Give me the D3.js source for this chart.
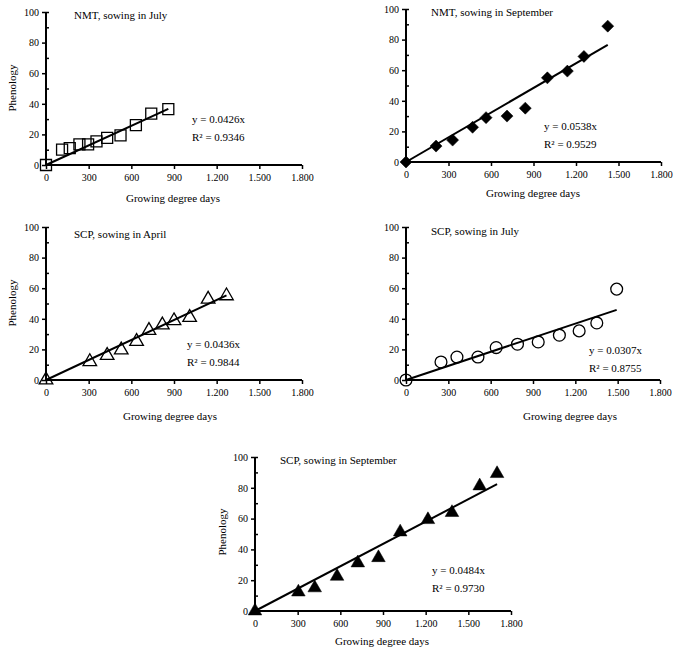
<!DOCTYPE html>
<html>
<head>
  <title>Phenology vs growing degree days</title>
  <script src="https://d3js.org/d3.v7.min.js"></script>
  <style>
    body { margin: 0; background: #fff; }
    svg text { font-family: 'Liberation Serif', 'Times New Roman', serif; fill: #000; }
  </style>
</head>
<body>
  <div id="chart"></div>

  <script>
    // Data (growing degree days, phenology)
    const nmtJulyGdd = [0, 113, 167, 235, 296, 355, 430, 524, 632, 740, 860];
    const nmtJulyPhen = [0, 10, 11, 13.5, 13.5, 15.5, 17.7, 19.4, 26, 33.6, 36.5];

    const nmtSepGdd = [0, 212, 329, 470, 565, 713, 842, 998, 1139, 1256, 1424];
    const nmtSepPhen = [0, 10.4, 14.3, 22.7, 29, 30, 35.2, 55, 59.4, 69, 88.8];

    const scpAprGdd = [0, 308, 430, 529, 637, 724, 818, 900, 1010, 1140, 1269];
    const scpAprPhen = [0, 12, 16, 19.6, 25.2, 32.4, 36, 38.7, 40.9, 52.8, 55];

    const scpJulGdd = [0, 248, 361, 510, 639, 790, 937, 1087, 1227, 1352, 1493];
    const scpJulPhen = [0, 11.8, 15, 15, 21.2, 23.4, 24.9, 29.3, 32.1, 37.3, 59.4];

    const scpSepGdd = [0, 305, 420, 577, 723, 868, 1021, 1216, 1385, 1580, 1702];
    const scpSepPhen = [0, 12.3, 15, 22.5, 31.2, 34.6, 51.3, 59.3, 63.9, 81.2, 89.2];

    const titles = ["NMT, sowing in July", "NMT, sowing in September", "SCP, sowing in April",
                    "SCP, sowing in July", "SCP, sowing in September"];
    const slopes = [0.0426, 0.0538, 0.0436, 0.0307, 0.0484];
    const rSquared = ["0.9346", "0.9529", "0.9844", "0.8755", "0.9730"];
    const markers = ["square", "diamond", "triangleOpen", "circle", "triangleFilled"];

    const xTicks = [0, 300, 600, 900, 1200, 1500, 1800];
    const xTickLabels = ["0", "300", "600", "900", "1.200", "1.500", "1.800"];
    const yTicks = [0, 20, 40, 60, 80, 100];

    const gddSeries = [nmtJulyGdd, nmtSepGdd, scpAprGdd, scpJulGdd, scpSepGdd];
    const phenSeries = [nmtJulyPhen, nmtSepPhen, scpAprPhen, scpJulPhen, scpSepPhen];

    // Panel placement on the page (plot area edges and label spots)
    const layout = [
      { x0: 46, x1: 302, yTop: 12, yBot: 165, title: [74, 15], eq: [192, 119], xl: [173, 198], yl: [12, 88] },
      { x0: 406, x1: 661, yTop: 9, yBot: 162, title: [431, 12], eq: [544, 126], xl: [533, 193], yl: null },
      { x0: 46, x1: 302, yTop: 227, yBot: 380, title: [74, 234], eq: [187, 344], xl: [170, 416], yl: [12, 303] },
      { x0: 406, x1: 660, yTop: 227, yBot: 380, title: [431, 231], eq: [589, 350], xl: [570, 416], yl: null },
      { x0: 255, x1: 511, yTop: 457, yBot: 611, title: [280, 460], eq: [432, 570], xl: [382, 641], yl: [222, 532] }
    ];

    const svg = d3.select("#chart").append("svg")
      .attr("width", 679)
      .attr("height", 650);

    function markerPath(kind) {
      if (kind === "square") return d3.symbol(d3.symbolSquare, 121)();
      if (kind === "diamond") return d3.symbol(d3.symbolSquare, 72)();
      if (kind === "circle") return d3.symbol(d3.symbolCircle, 110)();
      return d3.symbol(d3.symbolTriangle, 80)();
    }

    layout.forEach(function(L, i) {
      const x = d3.scaleLinear().domain([0, 1800]).range([L.x0, L.x1]);
      const y = d3.scaleLinear().domain([0, 100]).range([L.yBot, L.yTop]);
      const g = svg.append("g");

      // x axis
      const xAxis = g.append("g")
        .attr("transform", "translate(0," + L.yBot + ")")
        .call(d3.axisBottom(x).tickValues(xTicks).tickSize(4).tickPadding(5)
          .tickFormat(function(d, j) { return xTickLabels[j]; }));
      xAxis.select(".domain").attr("stroke-width", 2).attr("d", "M" + L.x0 + ",0H" + L.x1);
      xAxis.selectAll(".tick line").attr("stroke-width", 1.5);
      xAxis.selectAll("text").attr("font-size", 10).attr("font-family", "'Liberation Serif', serif");

      // y axis, major ticks outside
      const yAxis = g.append("g")
        .attr("transform", "translate(" + L.x0 + ",0)")
        .call(d3.axisLeft(y).tickValues(yTicks).tickSize(4).tickPadding(3));
      yAxis.select(".domain").attr("stroke-width", 2).attr("d", "M0," + L.yBot + "V" + L.yTop);
      yAxis.selectAll(".tick line").attr("stroke-width", 1.5);
      yAxis.selectAll("text").attr("font-size", 10).attr("font-family", "'Liberation Serif', serif");

      // minor ticks inside
      g.append("g")
        .attr("transform", "translate(" + L.x0 + ",0)")
        .call(d3.axisRight(y).tickValues([10, 30, 50, 70, 90, 100]).tickSize(3).tickFormat(""))
        .call(function(a) {
          a.select(".domain").remove();
          a.selectAll(".tick line").attr("stroke-width", 1.5);
        });

      // trend line through origin
      const gdd = gddSeries[i];
      const xmax = d3.max(gdd);
      g.append("line")
        .attr("x1", x(0)).attr("y1", y(0))
        .attr("x2", x(xmax)).attr("y2", y(slopes[i] * xmax))
        .attr("stroke", "#000")
        .attr("stroke-width", 2);

      // markers
      const pts = gdd.map(function(v, j) { return [v, phenSeries[i][j]]; });
      const kind = markers[i];
      const filled = kind === "diamond" || kind === "triangleFilled";
      g.selectAll("path.pt")
        .data(pts)
        .join("path")
        .attr("class", "pt")
        .attr("d", markerPath(kind))
        .attr("transform", function(d) {
          return "translate(" + x(d[0]) + "," + y(d[1]) + ")" + (kind === "diamond" ? " rotate(45)" : "");
        })
        .attr("fill", filled ? "#000" : "#fff")
        .attr("fill-opacity", filled ? 1 : 0)
        .attr("stroke", "#000")
        .attr("stroke-width", filled ? 0.5 : 1.3);

      // texts
      g.append("text")
        .attr("x", L.title[0]).attr("y", L.title[1])
        .attr("dy", "0.35em")
        .attr("font-size", 11)
        .text(titles[i]);

      g.append("text")
        .attr("x", L.eq[0]).attr("y", L.eq[1])
        .attr("dy", "0.35em")
        .attr("font-size", 11)
        .text("y = " + slopes[i].toFixed(4) + "x");

      g.append("text")
        .attr("x", L.eq[0]).attr("y", L.eq[1] + 18)
        .attr("dy", "0.35em")
        .attr("font-size", 11)
        .text("R² = " + rSquared[i]);

      g.append("text")
        .attr("x", L.xl[0]).attr("y", L.xl[1])
        .attr("dy", "0.35em")
        .attr("text-anchor", "middle")
        .attr("font-size", 11)
        .text("Growing degree days");

      if (L.yl) {
        g.append("text")
          .attr("transform", "translate(" + L.yl[0] + "," + L.yl[1] + ") rotate(-90)")
          .attr("dy", "0.35em")
          .attr("text-anchor", "middle")
          .attr("font-size", 11)
          .text("Phenology");
      }
    });
  </script>
</body>
</html>
